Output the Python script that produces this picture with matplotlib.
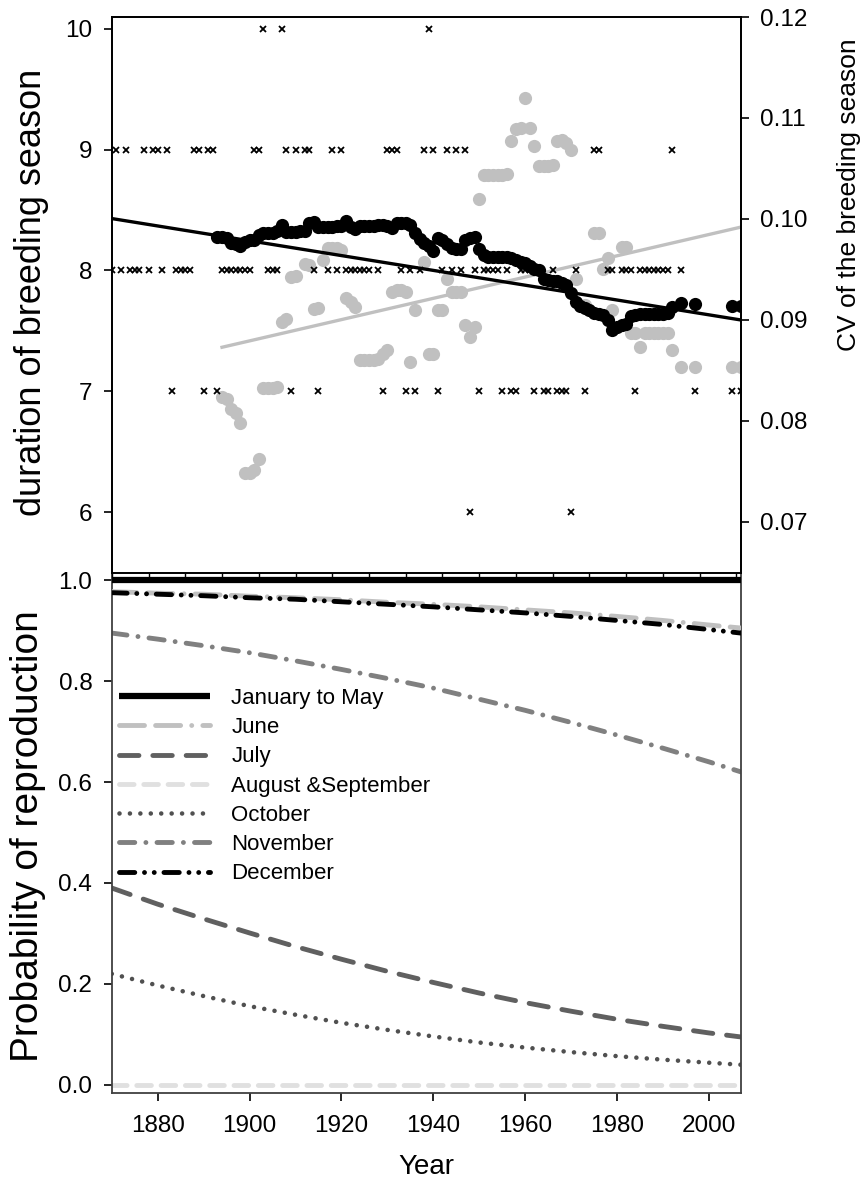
import numpy as np
import matplotlib
matplotlib.use('Agg')
import matplotlib.pyplot as plt

plt.rcParams['font.family'] = ['Liberation Sans', 'DejaVu Sans']
plt.rcParams['lines.scale_dashes'] = False

# yearly duration of the breeding season (months)
dur_years = [1870, 1871, 1872, 1873, 1874, 1875, 1876, 1877, 1878, 1879, 1880, 1881, 1882,
             1883, 1884, 1885, 1886, 1887, 1888, 1889, 1890, 1891, 1892, 1893, 1894, 1895,
             1896, 1897, 1898, 1899, 1900, 1901, 1902, 1903, 1904, 1905, 1906, 1907, 1908,
             1909, 1910, 1912, 1913, 1914, 1915, 1917, 1918, 1919, 1920, 1921, 1922, 1923,
             1924, 1925, 1926, 1928, 1929, 1930, 1931, 1932, 1933, 1934, 1935, 1936, 1937,
             1938, 1939, 1940, 1941, 1942, 1943, 1944, 1945, 1946, 1947, 1948, 1949, 1950,
             1951, 1952, 1953, 1954, 1955, 1956, 1957, 1958, 1959, 1960, 1961, 1962, 1963,
             1964, 1965, 1966, 1967, 1968, 1969, 1970, 1971, 1973, 1975, 1976, 1978, 1979,
             1981, 1982, 1983, 1984, 1985, 1986, 1987, 1988, 1989, 1990, 1991, 1992, 1994,
             1997, 2005, 2007]
dur_months = [8, 9, 8, 9, 8, 8, 8, 9, 8, 9, 9, 8, 9,
              7, 8, 8, 8, 8, 9, 9, 7, 9, 9, 7, 8, 8,
              8, 8, 8, 8, 8, 9, 9, 10, 8, 8, 8, 10, 9,
              7, 9, 9, 9, 8, 7, 8, 9, 8, 9, 8, 8, 8,
              8, 8, 8, 8, 7, 9, 9, 9, 8, 7, 8, 7, 8,
              9, 10, 9, 7, 8, 9, 8, 9, 8, 9, 6, 8, 7,
              8, 8, 8, 8, 7, 8, 7, 7, 8, 8, 8, 7, 8,
              7, 7, 8, 7, 7, 7, 6, 8, 7, 9, 9, 8, 8,
              8, 8, 8, 7, 8, 8, 8, 8, 8, 8, 8, 9, 8,
              7, 7, 7]

# running mean of the duration
mean_years = list(range(1893, 1993)) + [1994, 1997, 2005, 2007]
mean_dur = [8.28, 8.28, 8.27, 8.23, 8.22, 8.20, 8.24, 8.25, 8.25, 8.29,
            8.31, 8.31, 8.31, 8.33, 8.38, 8.32, 8.32, 8.32, 8.33, 8.33,
            8.39, 8.40, 8.36, 8.36, 8.36, 8.36, 8.37, 8.37, 8.41, 8.36,
            8.34, 8.37, 8.37, 8.37, 8.37, 8.38, 8.38, 8.37, 8.35, 8.39,
            8.39, 8.39, 8.38, 8.31, 8.26, 8.23, 8.20, 8.16, 8.27, 8.25,
            8.22, 8.19, 8.18, 8.18, 8.25, 8.27, 8.28, 8.18, 8.13, 8.11,
            8.11, 8.11, 8.11, 8.11, 8.10, 8.09, 8.07, 8.06, 8.04, 8.01,
            8.00, 7.93, 7.92, 7.91, 7.91, 7.90, 7.88, 7.81, 7.74, 7.71,
            7.69, 7.67, 7.65, 7.64, 7.63, 7.59, 7.51, 7.53, 7.55, 7.56,
            7.62, 7.63, 7.64, 7.64, 7.64, 7.64, 7.64, 7.64, 7.65, 7.70,
            7.73, 7.72, 7.71, 7.71]

# running coefficient of variation
cv_years = [1894, 1895, 1896, 1897, 1898, 1899, 1900, 1901, 1902, 1903, 1904, 1905, 1906,
            1907, 1908, 1909, 1910, 1912, 1913, 1914, 1915, 1916, 1917, 1918, 1919, 1920,
            1921, 1922, 1923, 1924, 1925, 1926, 1927, 1928, 1929, 1930, 1931, 1932, 1933,
            1934, 1935, 1936, 1938, 1939, 1940, 1941, 1942, 1943, 1944, 1945, 1946, 1947,
            1948, 1949, 1950, 1951, 1952, 1953, 1954, 1955, 1956, 1957, 1958, 1959, 1960,
            1961, 1962, 1963, 1964, 1965, 1966, 1967, 1968, 1969, 1970, 1971, 1973, 1975,
            1976, 1977, 1978, 1979, 1981, 1982, 1983, 1984, 1985, 1986, 1987, 1988, 1989,
            1990, 1991, 1992, 1994, 1997, 2005, 2007]
cv_values = [0.0824, 0.0822, 0.0812, 0.0808, 0.0798, 0.0749, 0.0749, 0.0751, 0.0762,
             0.0833, 0.0833, 0.0833, 0.0834, 0.0898, 0.0901, 0.0943, 0.0944, 0.0955,
             0.0954, 0.0911, 0.0912, 0.0959, 0.0971, 0.0971, 0.0971, 0.0969, 0.0922,
             0.0918, 0.0913, 0.0860, 0.0860, 0.0860, 0.0860, 0.0861, 0.0866, 0.0870,
             0.0928, 0.0930, 0.0930, 0.0928, 0.0858, 0.0910, 0.0957, 0.0866, 0.0866,
             0.0910, 0.0910, 0.0941, 0.0928, 0.0928, 0.0928, 0.0895, 0.0883, 0.0893,
             0.1020, 0.1044, 0.1044, 0.1044, 0.1044, 0.1044, 0.1045, 0.1077, 0.1089,
             0.1090, 0.1120, 0.1090, 0.1072, 0.1052, 0.1052, 0.1052, 0.1053, 0.1077,
             0.1078, 0.1075, 0.1068, 0.0941, 0.0915, 0.0986, 0.0986, 0.0950, 0.0961,
             0.0910, 0.0972, 0.0972, 0.0887, 0.0887, 0.0873, 0.0887, 0.0887, 0.0887,
             0.0887, 0.0887, 0.0887, 0.0870, 0.0853, 0.0853, 0.0853, 0.0853]

# linear trends
dur_trend_years = [1870, 2007]
dur_trend = [8.43, 7.59]
cv_trend_years = [1894, 2007]
cv_trend = [0.0873, 0.0992]

# fitted probability of reproduction per month
p_years = [1870, 1880, 1890, 1900, 1910, 1920, 1930, 1940, 1950, 1960, 1970, 1980, 1990, 2000, 2007]
p_jan_may = [1.0] * 15
p_june = [0.977, 0.974, 0.972, 0.968, 0.965, 0.961, 0.956, 0.952, 0.947, 0.941, 0.935, 0.928, 0.920, 0.911, 0.905]
p_july = [0.390, 0.358, 0.329, 0.301, 0.274, 0.249, 0.225, 0.203, 0.182, 0.163, 0.146, 0.130, 0.116, 0.103, 0.095]
p_aug_sep = [0.0] * 15
p_october = [0.220, 0.197, 0.176, 0.156, 0.139, 0.123, 0.109, 0.096, 0.084, 0.074, 0.065, 0.057, 0.050, 0.044, 0.040]
p_november = [0.895, 0.883, 0.870, 0.856, 0.840, 0.823, 0.805, 0.786, 0.764, 0.742, 0.718, 0.693, 0.667, 0.640, 0.620]
p_december = [0.975, 0.972, 0.969, 0.965, 0.962, 0.957, 0.952, 0.947, 0.941, 0.935, 0.928, 0.920, 0.912, 0.902, 0.895]

W, H = 867, 1187
fig = plt.figure(figsize=(W / 100, H / 100), dpi=100)

left = 111.8 / W
width = (741 - 111.8) / W
top_ax = fig.add_axes([left, 1 - 573 / H, width, (573 - 17) / H])
cv_ax = top_ax.twinx()
bot_ax = fig.add_axes([left, 1 - 1093 / H, width, (1093 - 573) / H])

tick_fs = 17.5

# ---- upper panel
top_ax.set_zorder(cv_ax.get_zorder() + 1)
top_ax.patch.set_visible(False)

cv_ax.plot(cv_years, cv_values, 'o', color='#c0c0c0', ms=9.5, mec='none')
cv_ax.plot(cv_trend_years, cv_trend, '-', color='#c0c0c0', lw=2.4)

top_ax.plot(dur_years, dur_months, 'x', color='black', ms=4, mew=1.3)
top_ax.plot(dur_trend_years, dur_trend, '-', color='black', lw=2.4)
top_ax.plot(mean_years, mean_dur, 'o', color='black', ms=9.5, mec='none')

top_ax.set_xlim(1870, 2007)
top_ax.set_ylim(5.495, 10.099)
top_ax.set_yticks([6, 7, 8, 9, 10])
top_ax.set_xticks(np.arange(1870, 2008, 8))
top_ax.tick_params(axis='x', labelbottom=False, direction='out', length=5, width=1)
top_ax.tick_params(axis='y', direction='out', length=6, width=1.2, labelsize=tick_fs, pad=8)

cv_ax.set_ylim(0.06495, 0.12)
cv_ax.set_yticks([0.07, 0.08, 0.09, 0.10, 0.11, 0.12])
cv_ax.set_yticklabels(['0.07', '0.08', '0.09', '0.10', '0.11', '0.12'])
cv_ax.tick_params(axis='y', direction='out', length=6, width=1.2, labelsize=tick_fs, pad=8)

for ax in (top_ax, cv_ax):
    for s in ax.spines.values():
        s.set_linewidth(1.3)
        s.set_color('black')

# ---- lower panel
bot_ax.plot(p_years, p_aug_sep, color='#e0e0e0', lw=3.5, dashes=(10.5, 7),
            dash_capstyle='round', label='August &September', zorder=2)
bot_ax.plot(p_years, p_october, color='#505050', lw=3.3, dashes=(0.01, 7.5),
            dash_capstyle='round', label='October', zorder=2)
bot_ax.plot(p_years, p_july, color='#606060', lw=3.5, dashes=(14, 10),
            dash_capstyle='round', label='July', zorder=2)
bot_ax.plot(p_years, p_november, color='#808080', lw=3.5, dashes=(11, 8, 0.01, 8),
            dash_capstyle='round', label='November', zorder=2)
bot_ax.plot(p_years, p_june, color='#c0c0c0', lw=3.5, dashes=(18, 8, 18, 8, 0.01, 8),
            dash_capstyle='round', label='June', zorder=3)
bot_ax.plot(p_years, p_december, color='black', lw=3.5, dashes=(11, 7, 0.01, 7, 0.01, 7),
            dash_capstyle='round', label='December', zorder=4)
bot_ax.plot(p_years, p_jan_may, color='black', lw=4.5, solid_capstyle='butt',
            label='January to May', zorder=5)

bot_ax.set_xlim(1870, 2007)
bot_ax.set_ylim(-0.016, 1.014)
bot_ax.set_yticks([0.0, 0.2, 0.4, 0.6, 0.8, 1.0])
bot_ax.set_yticklabels(['0.0', '0.2', '0.4', '0.6', '0.8', '1.0'])
bot_ax.set_xticks(np.arange(1880, 2001, 20))
bot_ax.tick_params(direction='out', length=6, width=1.2, labelsize=tick_fs, pad=8)
bot_ax.tick_params(axis='x', pad=10)
for s in bot_ax.spines.values():
    s.set_linewidth(1.3)
    s.set_color('#404040')

handles, labels = bot_ax.get_legend_handles_labels()
order = ['January to May', 'June', 'July', 'August &September', 'October', 'November', 'December']
hmap = dict(zip(labels, handles))
fig.legend([hmap[k] for k in order], order, loc='upper left',
           bbox_to_anchor=(119 / W, 1 - 688 / H), bbox_transform=fig.transFigure,
           frameon=False, fontsize=16, handlelength=4.1, handletextpad=0.95,
           labelspacing=0.37, borderpad=0, borderaxespad=0)

# axis titles
fig.text(32 / W, 1 - 292 / H, 'duration of breeding season', rotation=90,
         ha='center', va='center', fontsize=26)
fig.text(849 / W, 1 - 195 / H, 'CV of the breeding season', rotation=90,
         ha='center', va='center', fontsize=19)
fig.text(28 / W, 1 - 836 / H, 'Probability of reproduction', rotation=90,
         ha='center', va='center', fontsize=28)
fig.text((111.8 + 741) / 2 / W, 1 - 1167 / H, 'Year', ha='center', va='center', fontsize=20)

fig.savefig('out.png', dpi=100)
